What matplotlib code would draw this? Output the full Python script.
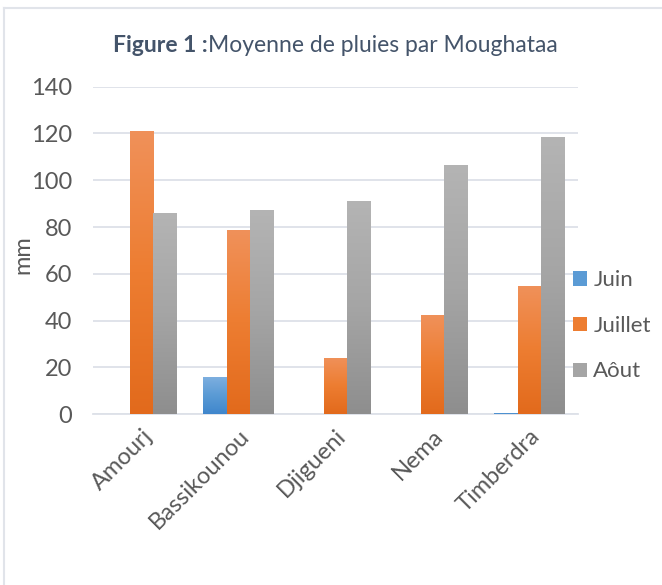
import matplotlib
matplotlib.use("Agg")
import matplotlib.pyplot as plt
import numpy as np
from matplotlib.colors import LinearSegmentedColormap
from matplotlib.lines import Line2D

categories = ["Amourj", "Bassikounou", "Djigueni", "Nema", "Timberdra"]
series_names = ["Juin", "Juillet", "Aôut"]
juin = [0, 16, 0, 0, 0.6]
juillet = [121, 78.6, 24.1, 42.3, 55]
aout = [86.1, 87.4, 91.3, 106.6, 118.7]
yticks = [0, 20, 40, 60, 80, 100, 120, 140]

colors = ["#5B9BD5", "#ED7D31", "#A5A5A5"]
tops = ["#7FB0E0", "#F0915A", "#B4B4B4"]
bottoms = ["#3F86CC", "#E26A1C", "#8E8E8E"]

plt.rcParams['font.family'] = ['Lato', 'DejaVu Sans']
text_col = "#595959"
W, H = 662, 585

fig = plt.figure(figsize=(6.62, 5.85), dpi=100)
ax = fig.add_axes([0.1405, 0.2918, 0.873 - 0.1405, 0.8518 - 0.2918])

x = np.arange(len(categories))
w = 0.243
data = [juin, juillet, aout]
for i, (vals, name) in enumerate(zip(data, series_names)):
    bars = ax.bar(x + (i - 1) * w, vals, width=w, color=colors[i], label=name,
                  zorder=3, edgecolor='none')
    cmap = LinearSegmentedColormap.from_list("g%d" % i, [bottoms[i], colors[i], tops[i]])
    grad = np.linspace(0, 1, 256).reshape(-1, 1)
    for b in bars:
        bx, by = b.get_x(), b.get_y()
        bw, bh = b.get_width(), b.get_height()
        if bh <= 0:
            continue
        im = ax.imshow(grad, extent=[bx, bx + bw, by, by + bh], origin='lower',
                       aspect='auto', cmap=cmap, zorder=3.5)
        im.set_clip_path(b)

ax.set_xlim(-0.5, len(categories) - 0.5)
ax.set_ylim(0, 140)
ax.set_yticks(yticks)
ax.yaxis.grid(True, color="#DDE1E8", linewidth=1.3, zorder=0)
ax.set_axisbelow(True)
for s in ["top", "right", "left"]:
    ax.spines[s].set_visible(False)
ax.spines["bottom"].set_color("#DDE1E8")
ax.spines["bottom"].set_linewidth(1.3)
ax.tick_params(axis='both', length=0, labelsize=17, colors=text_col)
ax.tick_params(axis='y', pad=15)
ax.set_xticks(x)
ax.set_xticklabels(categories, rotation=45, ha='right', rotation_mode='anchor')
ax.tick_params(axis='x', pad=8)
ax.set_ylabel("mm", fontsize=17, color=text_col)
ax.yaxis.set_label_coords(33 / W, 1 - 255 / H, transform=fig.transFigure)

handles, labels = ax.get_legend_handles_labels()
leg = fig.legend(handles, labels, loc='center left', bbox_to_anchor=(0.836, 0.443),
                 frameon=False, fontsize=16, handlelength=0.6, handleheight=0.6,
                 handletextpad=0.3, labelspacing=1.15, labelcolor=text_col)

# Title: bold prefix + regular part, centred as a whole
title_y = 1 - 45 / H
t1 = fig.text(0, title_y, "Figure 1 :", fontsize=16.5, fontweight='bold', color="#44546A",
              ha='left', va='center')
t2 = fig.text(0, title_y, "Moyenne de pluies par Moughataa", fontsize=16.5, color="#44546A",
              ha='left', va='center')
fig.canvas.draw()
r = fig.canvas.get_renderer()
w1 = t1.get_window_extent(r).width
w2 = t2.get_window_extent(r).width
total = w1 + w2
x0 = 335 - total / 2
t1.set_x(x0 / W)
t2.set_x((x0 + w1) / W)

# chart area border (top and left only visible)
fig.add_artist(Line2D([4 / W, 1], [1 - 8 / H, 1 - 8 / H], transform=fig.transFigure,
                      color="#E1E4EA", linewidth=1.5))
fig.add_artist(Line2D([4 / W, 4 / W], [0, 1 - 8 / H], transform=fig.transFigure,
                      color="#E1E4EA", linewidth=1.5))

fig.savefig("out.png", dpi=100)
